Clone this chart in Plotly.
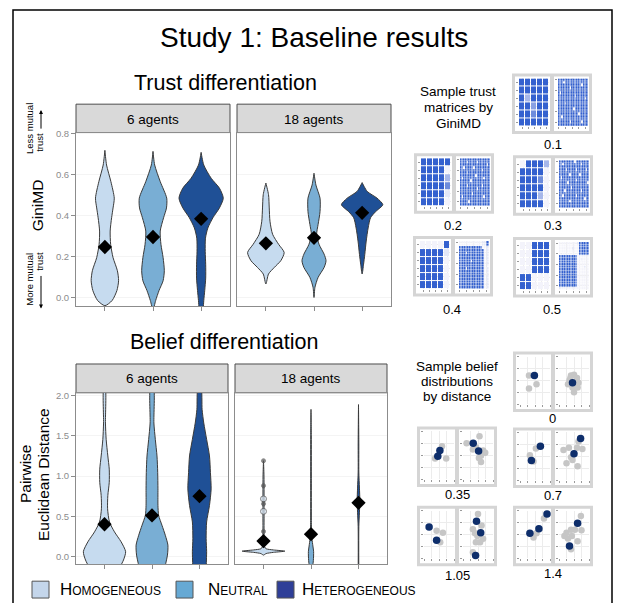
import plotly.graph_objects as go

W, H = 622, 603
FONT = "Liberation Sans, Arial, Helvetica, sans-serif"

# ---------------- data ----------------
groups = ["Homogeneous", "Neutral", "Heterogeneous"]
violin_colors = ["#c6dbef", "#79aed4", "#1f5096"]
legend_colors = ["#c4d6eb", "#66a9d4", "#2f3f98"]
panel_titles = ["6 agents", "18 agents"]

# Trust differentiation (GiniMD) - violin density profiles (value, half-width)
t6_hom_v = [-0.04, -0.015, 0.034, 0.082, 0.131, 0.195, 0.26, 0.325, 0.39, 0.438, 0.486, 0.567, 0.648, 0.72]
t6_hom_w = [0, .15, .25, .285, .26, .17, .12, .11, .14, .17, .195, .125, .035, 0]
t6_neu_v = [-0.06, -0.015, 0.034, 0.082, 0.131, 0.195, 0.26, 0.325, 0.39, 0.438, 0.486, 0.567, 0.648, 0.715]
t6_neu_w = [0, .055, .125, .21, .235, .21, .165, .15, .22, .28, .285, .15, .035, 0]
t6_het_v = [-0.07, -0.015, 0.034, 0.095, 0.16, 0.225, 0.29, 0.34, 0.39, 0.438, 0.486, 0.535, 0.583, 0.648, 0.71]
t6_het_w = [.04, .055, .075, .095, .095, .085, .09, .14, .245, .38, .46, .38, .21, .055, 0]
t18_hom_v = [0.066, 0.115, 0.147, 0.18, 0.22, 0.26, 0.309, 0.373, 0.438, 0.503, 0.56]
t18_hom_w = [0, .055, .175, .31, .38, .265, .14, .085, .07, .055, 0]
t18_neu_v = [0.0, 0.05, 0.098, 0.147, 0.18, 0.212, 0.26, 0.309, 0.357, 0.42, 0.486, 0.55, 0.608]
t18_neu_w = [0, .02, .085, .21, .25, .21, .105, .055, .085, .125, .125, .04, 0]
t18_het_v = [0.115, 0.163, 0.21, 0.276, 0.34, 0.39, 0.42, 0.454, 0.486, 0.519, 0.562]
t18_het_w = [0, .03, .055, .085, .125, .175, .28, .43, .31, .105, 0]
trust6_means = [0.247, 0.296, 0.385]
trust18_means = [0.265, 0.292, 0.414]

# Belief differentiation (pairwise Euclidean distance)
b6_hom_v = [-0.15, -0.045, 0.058, 0.181, 0.305, 0.428, 0.593, 0.757, 0.922, 1.086, 1.25, 1.457, 1.66, 2.1]
b6_hom_w = [.31, .4, .445, .35, .21, .105, .065, .07, .1, .1, .07, .035, .02, .015]
b6_neu_v = [-0.15, 0.016, 0.14, 0.263, 0.387, 0.51, 0.634, 0.84, 1.045, 1.25, 1.457, 1.66, 2.1]
b6_neu_w = [.265, .325, .335, .28, .21, .14, .125, .125, .12, .105, .07, .04, .03]
b6_het_v = [-0.15, 0.058, 0.22, 0.428, 0.634, 0.84, 1.045, 1.25, 1.457, 1.66, 1.827, 2.1]
b6_het_w = [.14, .15, .14, .15, .21, .245, .23, .21, .15, .09, .055, .03]
b18_hom_v = [0.016, 0.035, 0.05, 0.065, 0.08, 0.095, 0.12, 0.2, 0.5, 1.0, 1.19]
b18_hom_w = [0, .055, .21, .45, .21, .055, .02, .012, .012, .01, 0]
b18_neu_v = [-0.15, -0.05, 0.058, 0.15, 0.25, 0.4, 1.0, 1.5, 1.83]
b18_neu_w = [.03, .05, .055, .035, .014, .008, .007, .006, 0]
b18_het_v = [-0.15, 0.37, 0.55, 0.7, 0.85, 1.05, 1.4, 1.89]
b18_het_w = [.006, .007, .02, .028, .02, .007, .007, 0]
belief6_means = [0.40, 0.51, 0.75]
belief18_means = [0.19, 0.276, 0.667]
b18_hom_points = [1.19, 0.88, 0.716, 0.654, 0.56, 0.31]
b18_hom_hollow = [False, False, True, False, True, False]

trust_ticks = [0.0, 0.2, 0.4, 0.6, 0.8]
trust_ticktext = ["0.0", "0.2", "0.4", "0.6", "0.8"]
belief_ticks = [0.0, 0.5, 1.0, 1.5, 2.0]
belief_ticktext = ["0.0", "0.5", "1.0", "1.5", "2.0"]

# Sample trust matrices (digits = trust intensity 0..9)
trust_labels = ["0.1", "0.2", "0.3", "0.4", "0.5"]
m6_01 = ["99999", "99999", "95999", "99699", "99799", "99999"]
m6_02 = ["99999", "99990", "99995", "99997", "99991", "99990"]
m6_03 = ["09995", "99990", "99970", "99990", "99950", "99990"]
m6_04 = ["00009", "99991", "99990", "99990", "99990", "99990"]
m6_05 = ["00999", "00999", "00999", "00999", "99000", "99000"]
m18_01 = ["999999999999999999", "999099999999999999", "999999999999990999", "999999909999999999",
          "999999999999999999", "909999999999999999", "999999999959999999", "999999999999999909",
          "999999999999999999", "999959999999999999", "999999999999999999", "999999999099999999",
          "999999999999999999", "999999999999099999", "990999999999999999", "999999999999999999",
          "999999909999990999", "999999999999999999"]
m18_02 = ["999999999999999999", "999909999909999999", "999999999999999909", "990999990999999999",
          "999999999999909999", "999959999999999999", "999999999099999999", "909999999999990999",
          "999999099999999999", "999999999999999999", "999909999999909999", "999999999909999999",
          "999999999999999999", "999999909999999999", "909999999999990999", "999999999999999999",
          "999990999999999999", "999999999999999999"]
m18_03 = ["999999999099999999", "990999999999909999", "999999999999999999", "999909999909999909",
          "999999999999999999", "999999099999099999", "909999999999999999", "999999999909999999",
          "999990999999999990", "999999999999999999", "999999909999999999", "999099999999909999",
          "999999999999999999", "990999999909999999", "999999999999999099", "999999099999999999",
          "999999999999999999", "999999999999999999"]
m18_04 = ["000000000000001199", "000000000000001199", "999999999999990011", "999999999999999011",
          "999909999999999011", "999999999999999011", "999999999999999011", "999999909999999001",
          "999999999999999011", "999999999999999010", "999909999999999001", "999999999999999011",
          "999999999999999001", "999999999999999011", "999999999999999011", "999999999999999001",
          "999999999999999011", "999999999999999001"]
m18_05 = ["000000000001999999", "000000000000999999", "000000001000999999", "000000000000999999",
          "010000000000999999", "999999999990000000", "999999999990010000", "999999999990000000",
          "999999999990000000", "999999999990000100", "999999999990000000", "999999999990000000",
          "999999999990000000", "999999999990000000", "999999999990000000", "999999999990000000",
          "999999999990000000", "100000000000000000"]

# Sample belief distributions (x, y in [0,1]); dark = focal agents
belief_labels = ["0", "0.35", "0.7", "1.05", "1.4"]
bd0_l_grey = [(0.30, 0.60), (0.55, 0.42), (0.30, 0.33)]
bd0_l_dark = [(0.48, 0.60)]
bd0_r_grey = [(0.35, 0.50), (0.40, 0.60), (0.50, 0.62), (0.60, 0.55), (0.55, 0.40), (0.65, 0.45),
              (0.45, 0.35), (0.30, 0.42), (0.50, 0.25), (0.62, 0.35), (0.38, 0.55)]
bd0_r_dark = [(0.45, 0.45)]
bd1_l_grey = [(0.37, 0.43), (0.74, 0.43), (0.60, 0.69)]
bd1_l_dark = [(0.53, 0.60), (0.46, 0.48)]
bd1_r_grey = [(0.12, 0.75), (0.55, 0.90), (0.33, 0.62), (0.67, 0.60), (0.74, 0.55), (0.60, 0.49),
              (0.60, 0.36), (0.53, 0.44), (0.43, 0.67)]
bd1_r_dark = [(0.34, 0.75), (0.52, 0.59)]
bd2_l_grey = [(0.53, 0.66), (0.33, 0.52), (0.45, 0.39)]
bd2_l_dark = [(0.68, 0.71), (0.38, 0.41)]
bd2_r_grey = [(0.15, 0.63), (0.33, 0.68), (0.60, 0.68), (0.78, 0.65), (0.40, 0.48), (0.25, 0.35),
              (0.62, 0.29), (0.45, 0.42), (0.65, 0.81)]
bd2_r_dark = [(0.72, 0.87), (0.50, 0.55)]
bd3_l_grey = [(0.42, 0.58), (0.63, 0.54), (0.54, 0.34)]
bd3_l_dark = [(0.17, 0.66), (0.42, 0.38)]
bd3_r_grey = [(0.50, 0.93), (0.33, 0.61), (0.48, 0.47), (0.67, 0.41), (0.57, 0.34), (0.43, 0.34),
              (0.33, 0.13), (0.62, 0.69), (0.40, 0.53)]
bd3_r_dark = [(0.45, 0.78), (0.59, 0.54), (0.42, 0.06)]
bd4_l_grey = [(0.80, 0.84), (0.45, 0.44), (0.55, 0.53)]
bd4_l_dark = [(0.90, 0.93), (0.63, 0.62), (0.33, 0.53)]
bd4_r_grey = [(0.73, 0.89), (0.53, 0.60), (0.25, 0.54), (0.40, 0.60), (0.75, 0.59), (0.30, 0.42),
              (0.43, 0.47), (0.40, 0.19), (0.62, 0.36), (0.18, 0.47)]
bd4_r_dark = [(0.62, 0.74), (0.35, 0.26)]

# ---------------- helpers ----------------
def xd(x0, x1):
    return [x0 / W, x1 / W]

def yd(y0, y1):
    return [1 - y1 / H, 1 - y0 / H]

def px(x):
    return x / W

def py(y):
    return 1 - y / H

fig = go.Figure()
layout = {}
shapes = []
annotations = []
axis_count = [0]

def new_axes(xdom, ydom, xopts, yopts):
    axis_count[0] += 1
    i = axis_count[0]
    xn = "xaxis" if i == 1 else f"xaxis{i}"
    yn = "yaxis" if i == 1 else f"yaxis{i}"
    xr = "x" if i == 1 else f"x{i}"
    yr = "y" if i == 1 else f"y{i}"
    layout[xn] = dict(domain=xdom, anchor=yr, **xopts)
    layout[yn] = dict(domain=ydom, anchor=xr, **yopts)
    return xr, yr

def add_text(x, y, text, size, color="#000", angle=0, xanchor="center", variant=None):
    f = dict(family=FONT, size=size, color=color)
    if variant:
        f["variant"] = variant
    annotations.append(dict(x=px(x), y=py(y), xref="paper", yref="paper", text=text,
                            showarrow=False, font=f, textangle=angle,
                            xanchor=xanchor, yanchor="middle"))

def add_rect(x0, y0, x1, y1, fill=None, line=None, lw=1):
    shapes.append(dict(type="rect", xref="paper", yref="paper", x0=px(x0), x1=px(x1),
                       y0=py(y1), y1=py(y0), fillcolor=fill if fill else "rgba(0,0,0,0)",
                       line=dict(color=line if line else "rgba(0,0,0,0)", width=lw if line else 0),
                       layer="below"))

def add_violin(xr, yr, pos, v, w, color):
    xs = [pos + a for a in w] + [pos - a for a in reversed(w)]
    ys = list(v) + list(reversed(v))
    fig.add_trace(go.Scatter(x=xs, y=ys, xaxis=xr, yaxis=yr, mode="lines", fill="toself",
                             fillcolor=color, hoverinfo="skip",
                             line=dict(color="#3a3a3a", width=1, shape="spline", smoothing=0.7)))

def add_means(xr, yr, means):
    fig.add_trace(go.Scatter(x=[1, 2, 3], y=means, xaxis=xr, yaxis=yr, mode="markers",
                             marker=dict(symbol="diamond", size=11, color="black"),
                             hoverinfo="skip"))

# ---------------- main violin panels ----------------
main_x = dict(range=[0.4, 3.6], tickvals=[1, 2, 3], ticks="outside", ticklen=4,
              tickcolor="#8c8c8c", showticklabels=False, showgrid=False, zeroline=False,
              showline=True, mirror=True, linecolor="#8c8c8c", linewidth=1)

def main_y(rng, tv, tt, labels):
    return dict(range=rng, tickvals=tv, ticktext=tt, ticks="outside" if labels else "",
                ticklen=4, tickcolor="#8c8c8c", showticklabels=labels,
                tickfont=dict(family=FONT, size=9.5, color="#8c8c8c"),
                showgrid=True, gridcolor="#f4f4f4", zeroline=False,
                showline=True, mirror=True, linecolor="#8c8c8c", linewidth=1)

trust_range = [-0.044, 0.805]
belief_range = [-0.099, 2.037]

panels = [
    (76, 230, 129, 304, trust_range, trust_ticks, trust_ticktext, True,
     [(t6_hom_v, t6_hom_w), (t6_neu_v, t6_neu_w), (t6_het_v, t6_het_w)], trust6_means, panel_titles[0]),
    (237, 391, 129, 304, trust_range, trust_ticks, trust_ticktext, False,
     [(t18_hom_v, t18_hom_w), (t18_neu_v, t18_neu_w), (t18_het_v, t18_het_w)], trust18_means, panel_titles[1]),
    (76, 228, 391, 564, belief_range, belief_ticks, belief_ticktext, True,
     [(b6_hom_v, b6_hom_w), (b6_neu_v, b6_neu_w), (b6_het_v, b6_het_w)], belief6_means, panel_titles[0]),
    (235, 387, 391, 564, belief_range, belief_ticks, belief_ticktext, False,
     [(b18_hom_v, b18_hom_w), (b18_neu_v, b18_neu_w), (b18_het_v, b18_het_w)], belief18_means, panel_titles[1]),
]

for k, (x0, x1, y0, y1, rng, tv, tt, lab, prof, means, title) in enumerate(panels):
    xr, yr = new_axes(xd(x0, x1), yd(y0, y1), main_x, main_y(rng, tv, tt, lab))
    for g, (v, w) in enumerate(prof):
        add_violin(xr, yr, g + 1, v, w, violin_colors[g])
    if k == 3:
        fig.add_trace(go.Scatter(
            x=[1] * len(b18_hom_points), y=b18_hom_points, xaxis=xr, yaxis=yr, mode="markers",
            marker=dict(size=[6 if h else 4 for h in b18_hom_hollow],
                        color=["#d6e4f2" if h else "#555555" for h in b18_hom_hollow],
                        line=dict(color="#555555", width=1)), hoverinfo="skip"))
    add_means(xr, yr, means)
    # strip
    add_rect(x0, y0 - 29, x1, y0, fill="#d9d9d9", line="#4d4d4d", lw=1)
    add_text((x0 + x1) / 2, y0 - 14, title, 13.5)

# ---------------- titles & axis labels ----------------
add_text(313.5, 33, "Study 1: Baseline results", 28)
add_text(225, 79, "Trust differentiation", 21.5)
add_text(224, 340, "Belief differentiation", 21.5)
add_text(37, 202, "GiniMD", 15.5, angle=-90)
add_text(30, 124, "Less mutual", 9.5, angle=-90)
add_text(40, 139, "trust", 9.5, angle=-90)
add_text(30, 276, "More mutual", 9.5, angle=-90)
add_text(40, 259, "trust", 9.5, angle=-90)
annotations.append(dict(x=px(41), y=py(106), xref="paper", yref="paper", ax=0, ay=20, text="",
                        showarrow=True, arrowhead=2, arrowsize=0.8, arrowwidth=1, arrowcolor="#000"))
annotations.append(dict(x=px(41), y=py(306), xref="paper", yref="paper", ax=0, ay=-34, text="",
                        showarrow=True, arrowhead=2, arrowsize=0.8, arrowwidth=1, arrowcolor="#000"))
add_text(25, 473, "Pairwise", 15.5, angle=-90)
add_text(43, 474, "Euclidean Distance", 15.5, angle=-90)

# ---------------- legend ----------------
legend_pos = [(32, 58), (176, 206), (277, 300)]
for g, (sx, tx) in enumerate(legend_pos):
    add_rect(sx, 581, sx + 17, 598, fill=legend_colors[g], line="#555555", lw=1)
    add_text(tx, 589.5, groups[g], 17, xanchor="left", variant="small-caps")

# ---------------- right side: sample trust matrices ----------------
add_text(458, 87, "Sample trust", 13.5)
add_text(458, 103, "matrices by", 13.5)
add_text(458, 119, "GiniMD", 13.5)

trust_frames = [(512, 69), (414, 149.5), (513, 151.5), (413, 233), (513, 234)]
trust_label_pos = [(552.7, 140.7), (453, 222.7), (553, 222.7), (451.7, 306.7), (551.7, 307)]
m6_list = [m6_01, m6_02, m6_03, m6_04, m6_05]
m18_list = [m18_01, m18_02, m18_03, m18_04, m18_05]
cscale = [[0, "#f3f3fb"], [0.12, "#e3e7f7"], [0.55, "#a7b8ea"], [1, "#3461cf"]]

def thumb_axes(fx, fy, side, xrange, yrange, reverse_y, dtick_x, dtick_y):
    ox = 0 if side == 0 else 39
    xo = dict(range=xrange, showticklabels=False, ticks="outside", ticklen=2, tickcolor="#9a9a9a",
              showgrid=True, gridcolor="#ececec", zeroline=False, showline=False, dtick=dtick_x,
              tick0=0)
    yo = dict(range=yrange, showticklabels=False, ticks="outside", ticklen=2, tickcolor="#9a9a9a",
              showgrid=True, gridcolor="#ececec", zeroline=False, showline=False, dtick=dtick_y,
              tick0=0)
    if reverse_y:
        yo["range"] = [yrange[1], yrange[0]]
    return new_axes(xd(fx + ox + 7, fx + ox + 37), yd(fy + 5, fy + 53), xo, yo)

def frame(fx, fy):
    add_rect(fx, fy, fx + 80, fy + 61, fill="#d5d5d5")
    add_rect(fx + 3, fy + 3, fx + 38, fy + 58, fill="#ffffff")
    add_rect(fx + 42, fy + 3, fx + 77, fy + 58, fill="#ffffff")

for i, (fx, fy) in enumerate(trust_frames):
    frame(fx, fy)
    for side, mat in enumerate([m6_list[i], m18_list[i]]):
        z = [[int(c) for c in row] for row in mat]
        nr, nc = len(z), len(z[0])
        xr, yr = thumb_axes(fx, fy, side, [-0.5, nc - 0.5], [-0.5, nr - 0.5], True,
                            max(1, nc // 4), max(1, nr // 4))
        gap = 1 if nc < 10 else 0.4
        fig.add_trace(go.Heatmap(z=z, xaxis=xr, yaxis=yr, zmin=0, zmax=9, colorscale=cscale,
                                 showscale=False, xgap=gap, ygap=gap, hoverinfo="skip"))
    lx, ly = trust_label_pos[i]
    add_text(lx, ly, trust_labels[i], 13)

# ---------------- right side: sample belief distributions ----------------
add_text(456.7, 365, "Sample belief", 13.5)
add_text(456.7, 380, "distributions", 13.5)
add_text(456.7, 395, "by distance", 13.5)

belief_frames = [(513, 349.5), (417, 425), (513, 426), (417, 505), (513, 505)]
belief_label_pos = [(552.7, 417), (457.3, 494), (552.7, 495), (457.3, 575), (552.7, 573.5)]
bd_sets = [
    (bd0_l_grey, bd0_l_dark, bd0_r_grey, bd0_r_dark),
    (bd1_l_grey, bd1_l_dark, bd1_r_grey, bd1_r_dark),
    (bd2_l_grey, bd2_l_dark, bd2_r_grey, bd2_r_dark),
    (bd3_l_grey, bd3_l_dark, bd3_r_grey, bd3_r_dark),
    (bd4_l_grey, bd4_l_dark, bd4_r_grey, bd4_r_dark),
]

for i, (fx, fy) in enumerate(belief_frames):
    frame(fx, fy)
    lg, ld, rg, rd = bd_sets[i]
    for side, (grey, dark) in enumerate([(lg, ld), (rg, rd)]):
        xr, yr = thumb_axes(fx, fy, side, [0, 1], [0, 1], False, 0.25, 0.25)
        fig.add_trace(go.Scatter(x=[p[0] for p in grey], y=[p[1] for p in grey], xaxis=xr, yaxis=yr,
                                 mode="markers", marker=dict(size=6.5, color="#c6c6c6"),
                                 hoverinfo="skip", cliponaxis=False))
        fig.add_trace(go.Scatter(x=[p[0] for p in dark], y=[p[1] for p in dark], xaxis=xr, yaxis=yr,
                                 mode="markers", marker=dict(size=7.5, color="#0e2e6b"),
                                 hoverinfo="skip", cliponaxis=False))
    lx, ly = belief_label_pos[i]
    add_text(lx, ly, belief_labels[i], 13)

# ---------------- outer border ----------------
shapes.append(dict(type="rect", xref="paper", yref="paper", x0=px(13), x1=px(612),
                   y0=py(615), y1=py(5), line=dict(color="#000", width=1.5),
                   fillcolor="rgba(0,0,0,0)", layer="above"))

fig.update_layout(
    width=W, height=H, margin=dict(l=0, r=0, t=0, b=0),
    paper_bgcolor="white", plot_bgcolor="white", showlegend=False,
    font=dict(family=FONT), shapes=shapes, annotations=annotations, **layout,
)

fig.write_html("out.html", config={"displayModeBar": False},
               post_script="document.body.style.margin='0';document.body.style.padding='0';"
                           "document.body.style.overflow='hidden';")
